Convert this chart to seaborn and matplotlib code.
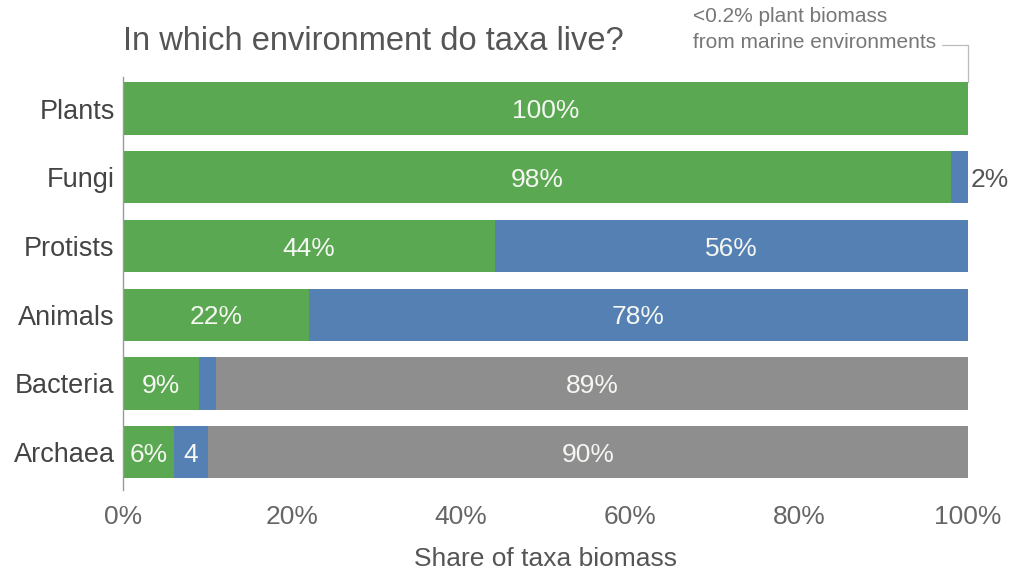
import matplotlib
matplotlib.use("Agg")
import matplotlib.pyplot as plt
import seaborn as sns
import pandas as pd

# Share of each taxon's biomass by environment (%)
taxa = ["Plants", "Fungi", "Protists", "Animals", "Bacteria", "Archaea"]
terrestrial = [100, 98, 44, 22, 9, 6]
marine = [0, 2, 56, 78, 2, 4]
deep_subsurface = [0, 0, 0, 0, 89, 90]

# Segment labels (None = not labelled)
terrestrial_labels = ["100%", "98%", "44%", "22%", "9%", "6%"]
marine_labels = [None, "2%", "56%", "78%", None, "4"]
subsurface_labels = [None, None, None, None, "89%", "90%"]

xticks = [0, 20, 40, 60, 80, 100]
xtick_labels = ["0%", "20%", "40%", "60%", "80%", "100%"]

GREEN = "#5aa851"
BLUE = "#5580b3"
GRAY = "#8e8e8e"
TEXT = "#555555"

sns.set_theme(style="white")
plt.rcParams["font.family"] = ["Liberation Sans", "DejaVu Sans"]

df = pd.DataFrame({
    "taxon": taxa,
    "terrestrial": terrestrial,
    "marine": marine,
    "subsurface": deep_subsurface,
})
df["cum_marine"] = df["terrestrial"] + df["marine"]
df["cum_all"] = df["cum_marine"] + df["subsurface"]

fig = plt.figure(figsize=(10.15, 5.73), dpi=100)
ax = fig.add_axes([123 / 1015, 1 - 490 / 573, 845 / 1015, 413 / 573])

# Stacked bars drawn as cumulative layers
sub = df[df["subsurface"] > 0]
sns.barplot(data=sub, y="taxon", x="cum_all", order=taxa, color=GRAY,
            width=0.76, orient="h", ax=ax, linewidth=0, saturation=1)
mar = df[df["marine"] > 0]
sns.barplot(data=mar, y="taxon", x="cum_marine", order=taxa, color=BLUE,
            width=0.76, orient="h", ax=ax, linewidth=0, saturation=1)
sns.barplot(data=df, y="taxon", x="terrestrial", order=taxa, color=GREEN,
            width=0.76, orient="h", ax=ax, linewidth=0, saturation=1)

# Value labels
FS = 19
lab_kw = dict(ha="center", va="center_baseline", fontsize=FS, color="#f5f7f2")
for i in range(len(taxa)):
    g, b, s = terrestrial[i], marine[i], deep_subsurface[i]
    if terrestrial_labels[i]:
        ax.text(g / 2, i, terrestrial_labels[i], **lab_kw)
    if marine_labels[i]:
        if b >= 3:
            ax.text(g + b / 2, i, marine_labels[i], **lab_kw)
        else:
            ax.text(g + b + 0.3, i, marine_labels[i], ha="left",
                    va="center_baseline", fontsize=FS, color=TEXT,
                    clip_on=False)
    if subsurface_labels[i]:
        ax.text(g + b + s / 2, i, subsurface_labels[i], **lab_kw)

ax.set_xlim(0, 100)
ax.set_ylim(5.55, -0.46)
ax.set_xticks(xticks)
ax.set_xticklabels(xtick_labels)
ax.tick_params(axis="x", length=0, pad=11, labelsize=FS, labelcolor="#666666")
ax.tick_params(axis="y", length=0, pad=6, labelsize=19.5, labelcolor="#444444")
ax.set_ylabel("")
ax.set_xlabel("Share of taxa biomass", fontsize=FS, color=TEXT, labelpad=13)

for side in ["top", "right", "bottom"]:
    ax.spines[side].set_visible(False)
ax.spines["left"].set_color("#9a9a9a")
ax.spines["left"].set_linewidth(1.0)

fig.text(123 / 1015, 1 - 42 / 573, "In which environment do taxa live?",
         ha="left", va="center", fontsize=23.5, color=TEXT)

# Note about marine plant biomass with leader line
fig.text(693 / 1015, 1 - 17 / 573, "<0.2% plant biomass", ha="left",
         va="center", fontsize=15, color="#777777")
fig.text(693 / 1015, 1 - 43 / 573, "from marine environments", ha="left",
         va="center", fontsize=15, color="#777777")
ax.plot([96.9, 100, 100], [-0.93, -0.93, -0.38], color="#bbbbbb", lw=0.9,
        clip_on=False)

fig.savefig("out.png", dpi=100, facecolor="white")
